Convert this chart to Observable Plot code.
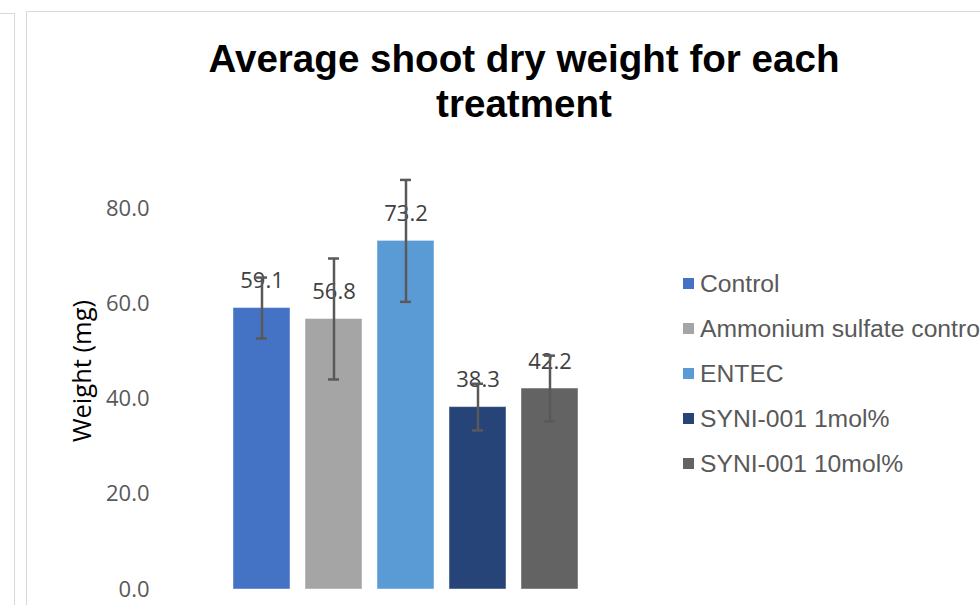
<!DOCTYPE html>
<html><head><meta charset="utf-8">
<script src="https://cdn.jsdelivr.net/npm/d3@7"></script>
<script src="https://cdn.jsdelivr.net/npm/@observablehq/plot@0.6"></script>
<style>
body{margin:0;background:#fff;}
#wrap{position:relative;width:980px;height:605px;overflow:hidden;background:#fff;}
.frameL{position:absolute;left:-10px;top:13px;width:24px;height:700px;border-top:1.5px solid #d9d9d9;border-right:1.5px solid #d9d9d9;}
.frameR{position:absolute;left:26px;top:11px;width:1000px;height:700px;border:1.5px solid #d9d9d9;}
#chart{position:absolute;left:0;top:0;}
#title{position:absolute;left:0;width:1048px;top:36px;text-align:center;font-family:"Liberation Sans",Arial,sans-serif;font-weight:bold;font-size:38.6px;line-height:45px;color:#000;}
#legend{position:absolute;left:683px;top:261px;font-family:"Liberation Sans",Arial,sans-serif;font-size:24.7px;color:#595959;white-space:nowrap;}
#legend .row{height:45px;line-height:45px;display:flex;align-items:center;}
#legend .sw{width:11px;height:11px;margin-right:6px;flex:none;}
</style>
</head><body>
<div id="wrap">
  <div class="frameL"></div>
  <div class="frameR"></div>
  <div id="chart"></div>
  <div id="title"></div>
  <div id="legend"></div>
</div>
<script>
const titleLines = ["Average shoot dry weight for each", "treatment"];
const yLabel = "Weight (mg)";
const names = ["Control", "Ammonium sulfate control", "ENTEC", "SYNI-001 1mol%", "SYNI-001 10mol%"];
const values = [59.1, 56.8, 73.2, 38.3, 42.2];
const errors = [6.4, 12.7, 12.8, 4.9, 6.9];
const colors = ["#4472C4", "#A5A5A5", "#5B9BD5", "#264478", "#636363"];
const yTicks = [0, 20, 40, 60, 80];

const data = names.map((n, i) => ({name: n, value: values[i], err: errors[i]}));
const fmt = d3.format(".1f");

const plot = Plot.plot({
  width: 980,
  height: 605,
  marginTop: 208,
  marginBottom: 16,
  marginLeft: 225,
  marginRight: 395,
  style: {fontFamily: "'Open Sans', sans-serif", fontSize: "22px", color: "#595959", background: "transparent", overflow: "visible"},
  x: {domain: names, paddingInner: 0.21, paddingOuter: 0.105, axis: null},
  y: {domain: [0, 80], axis: null},
  color: {domain: names, range: colors},
  marks: [
    Plot.axisY({ticks: yTicks, tickSize: 0, tickPadding: 76, tickFormat: fmt, fontSize: 22, fill: "#595959", label: null}),
    Plot.barY(data, {x: "name", y: "value", fill: "name", stroke: "#ffffff", strokeOpacity: 0.45, strokeWidth: 1}),
    Plot.text(data, {x: "name", y: "value", text: d => fmt(d.value), dy: -27, fontSize: 22, fill: "#404040"}),
    Plot.ruleX(data, {x: "name", y1: d => d.value - d.err, y2: d => d.value + d.err, stroke: "#595959", strokeWidth: 2.5}),
    Plot.tickY(data, {x: "name", y: d => d.value - d.err, insetLeft: 23, insetRight: 23, stroke: "#595959", strokeWidth: 2.5}),
    Plot.tickY(data, {x: "name", y: d => d.value + d.err, insetLeft: 23, insetRight: 23, stroke: "#595959", strokeWidth: 2.5}),
    Plot.text([yLabel], {frameAnchor: "left", text: d => d, rotate: -90, textAnchor: "middle", dx: -143, dy: -28, fontSize: 25.5, fill: "#000000"})
  ]
});
document.getElementById("chart").appendChild(plot);

document.getElementById("title").innerHTML = titleLines.join("<br>");

const legend = document.getElementById("legend");
names.forEach((n, i) => {
  const row = document.createElement("div");
  row.className = "row";
  const sw = document.createElement("span");
  sw.className = "sw";
  sw.style.background = colors[i];
  const t = document.createElement("span");
  t.textContent = n;
  row.appendChild(sw);
  row.appendChild(t);
  legend.appendChild(row);
});
</script>
</body></html>
